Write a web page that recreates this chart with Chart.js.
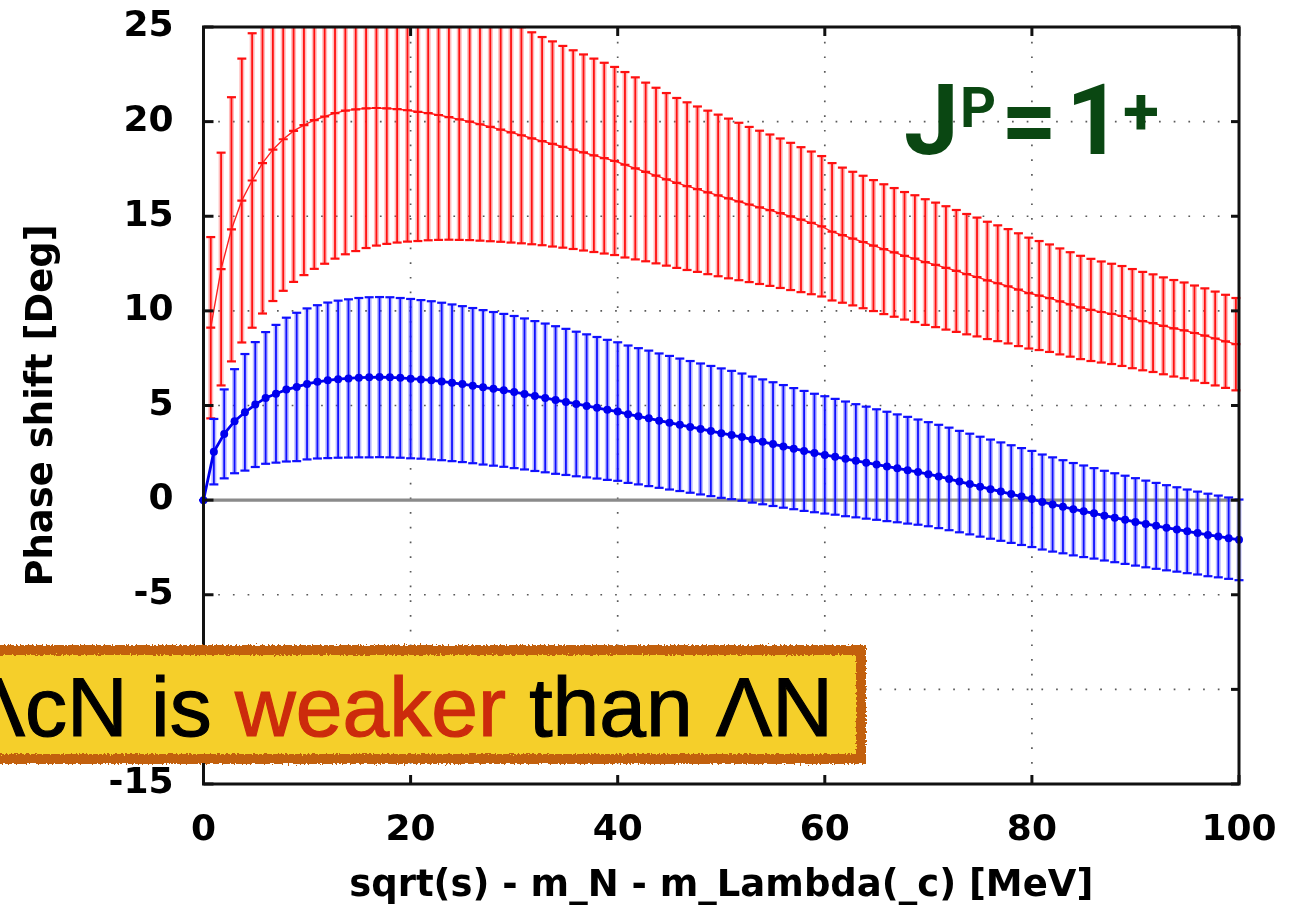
<!DOCTYPE html>
<html>
<head>
<meta charset="utf-8">
<script src="https://cdn.jsdelivr.net/npm/chart.js@4/dist/chart.umd.min.js"></script>
<style>
  html, body { margin: 0; padding: 0; background: #fff; }
  #wrap { position: relative; width: 1311px; height: 911px; overflow: hidden; }
  #plot { position: absolute; left: 0; top: 0; }
  .jp { position: absolute; font-family: Roboto, sans-serif; font-weight: 700; color: #0a4712; line-height: 1; white-space: nowrap; }
  #bannerFrame {
    position: absolute; left: -20px; top: 645px; width: 886px; height: 119px; box-sizing: border-box;
    background: #f5cf2a; border: 10px solid #c2600e; filter: url(#rough);
  }
  #bannerText {
    position: absolute; left: -31px; top: 665px; font-family: "Liberation Sans", Arial, sans-serif;
    font-size: 84px; line-height: 1; color: #000; white-space: nowrap; -webkit-text-stroke: 1.2px #000;
  }
  #bannerText .hl { color: #cc2b0c; -webkit-text-stroke: 1.2px #cc2b0c; }
</style>
</head>
<body>
<div id="wrap">
  <canvas id="plot" width="1311" height="911"></canvas>
  <span class="jp" style="left:904px; top:72px; font-size:98px;">J</span>
  <span class="jp" style="left:960px; top:80px; font-size:56px;">P</span>
  <span class="jp" style="left:1001px; top:72px; font-size:98px;">=</span>
  <span class="jp" style="left:1066px; top:72px; font-size:98px;">1</span>
  <span class="jp" style="left:1123px; top:79px; font-size:66px;">+</span>
  <div id="bannerFrame"></div>
  <div id="bannerText">ΛcN is <span class="hl">weaker</span> than ΛN</div>
  <svg width="0" height="0" style="position:absolute">
    <filter id="rough" x="-5%" y="-20%" width="110%" height="140%">
      <feTurbulence type="fractalNoise" baseFrequency="0.5" numOctaves="2" seed="4" result="noise"/>
      <feDisplacementMap in="SourceGraphic" in2="noise" scale="6" xChannelSelector="R" yChannelSelector="G"/>
    </filter>
  </svg>
</div>
<script>
// Lambda_c N channel (blue): energies [MeV], phase shifts [deg], symmetric errors [deg]
const energyCN = [0,1,2,3,4,5,6,7,8,9,10,11,12,13,14,15,16,17,18,19,20,21,22,23,24,25,26,27,28,29,30,31,32,33,34,35,36,37,38,39,40,41,42,43,44,45,46,47,48,49,50,51,52,53,54,55,56,57,58,59,60,61,62,63,64,65,66,67,68,69,70,71,72,73,74,75,76,77,78,79,80,81,82,83,84,85,86,87,88,89,90,91,92,93,94,95,96,97,98,99,100];
const phaseCN = [0,2.56,3.50,4.17,4.64,5.05,5.40,5.62,5.84,5.98,6.14,6.25,6.33,6.39,6.43,6.47,6.49,6.50,6.49,6.46,6.42,6.38,6.33,6.27,6.20,6.13,6.05,5.96,5.88,5.80,5.71,5.61,5.50,5.40,5.29,5.19,5.08,4.98,4.88,4.77,4.68,4.54,4.43,4.32,4.20,4.09,3.98,3.87,3.76,3.65,3.54,3.44,3.33,3.20,3.08,2.96,2.84,2.72,2.60,2.49,2.39,2.29,2.18,2.08,1.98,1.88,1.78,1.68,1.58,1.48,1.37,1.25,1.12,0.98,0.85,0.71,0.58,0.45,0.32,0.19,0.06,-0.10,-0.23,-0.35,-0.48,-0.59,-0.70,-0.82,-0.93,-1.04,-1.15,-1.26,-1.36,-1.46,-1.55,-1.65,-1.74,-1.84,-1.92,-2.01,-2.10];
const errCN = [0,1.73,2.35,2.75,3.08,3.30,3.48,3.64,3.80,3.92,3.99,4.05,4.11,4.15,4.18,4.21,4.23,4.23,4.23,4.22,4.21,4.19,4.18,4.16,4.14,4.12,4.10,4.08,4.06,4.04,4.02,3.99,3.96,3.93,3.90,3.86,3.82,3.78,3.74,3.70,3.66,3.63,3.60,3.58,3.55,3.53,3.50,3.48,3.46,3.44,3.42,3.39,3.36,3.33,3.30,3.27,3.24,3.20,3.17,3.13,3.10,3.06,3.03,2.99,2.96,2.92,2.89,2.85,2.82,2.78,2.75,2.73,2.71,2.68,2.66,2.64,2.62,2.60,2.58,2.56,2.54,2.51,2.49,2.46,2.44,2.42,2.39,2.37,2.35,2.33,2.31,2.29,2.27,2.25,2.23,2.21,2.19,2.18,2.16,2.15,2.13];

// Lambda N channel (red)
const energyN = [0.7,1.7,2.7,3.7,4.7,5.7,6.7,7.7,8.7,9.7,10.7,11.7,12.7,13.7,14.7,15.7,16.7,17.7,18.7,19.7,20.7,21.7,22.7,23.7,24.7,25.7,26.7,27.7,28.7,29.7,30.7,31.7,32.7,33.7,34.7,35.7,36.7,37.7,38.7,39.7,40.7,41.7,42.7,43.7,44.7,45.7,46.7,47.7,48.7,49.7,50.7,51.7,52.7,53.7,54.7,55.7,56.7,57.7,58.7,59.7,60.7,61.7,62.7,63.7,64.7,65.7,66.7,67.7,68.7,69.7,70.7,71.7,72.7,73.7,74.7,75.7,76.7,77.7,78.7,79.7,80.7,81.7,82.7,83.7,84.7,85.7,86.7,87.7,88.7,89.7,90.7,91.7,92.7,93.7,94.7,95.7,96.7,97.7,98.7,99.7];
const phaseN = [9.11,12.21,14.31,15.83,16.89,17.81,18.52,19.07,19.51,19.81,20.08,20.27,20.45,20.58,20.65,20.70,20.72,20.70,20.66,20.60,20.52,20.45,20.35,20.24,20.12,20.00,19.86,19.72,19.58,19.43,19.28,19.12,18.97,18.82,18.67,18.52,18.37,18.22,18.07,17.92,17.72,17.53,17.34,17.15,16.95,16.76,16.59,16.43,16.26,16.10,15.94,15.78,15.62,15.47,15.32,15.16,14.99,14.82,14.65,14.47,14.18,14.00,13.82,13.64,13.45,13.26,13.09,12.91,12.76,12.58,12.43,12.27,12.11,11.94,11.79,11.61,11.46,11.30,11.12,10.94,10.81,10.67,10.50,10.34,10.18,10.05,9.94,9.84,9.73,9.59,9.46,9.35,9.21,9.08,8.97,8.83,8.69,8.54,8.39,8.24];
const errN = [4.79,6.15,6.98,7.50,7.78,7.95,8.00,8.01,7.98,7.92,7.86,7.78,7.69,7.59,7.49,7.38,7.27,7.16,7.05,6.94,6.83,6.72,6.60,6.48,6.37,6.26,6.15,6.04,5.93,5.82,5.71,5.60,5.50,5.42,5.33,5.25,5.18,5.11,5.04,4.97,4.90,4.81,4.72,4.64,4.56,4.49,4.43,4.37,4.32,4.27,4.22,4.16,4.10,4.05,4.00,3.95,3.89,3.83,3.77,3.71,3.63,3.57,3.53,3.50,3.46,3.43,3.40,3.37,3.35,3.32,3.29,3.26,3.22,3.18,3.14,3.10,3.06,3.02,2.98,2.93,2.88,2.84,2.80,2.76,2.73,2.70,2.67,2.65,2.64,2.62,2.60,2.58,2.56,2.55,2.53,2.51,2.50,2.48,2.46,2.44];

// Axis ticks
const xTicks = [0, 20, 40, 60, 80, 100];
const yTicks = [-15, -10, -5, 0, 5, 10, 15, 20, 25];

const axisFont = { family: 'DejaVu Sans', weight: 'bold', size: 36 };
const titleFont = { family: 'DejaVu Sans', weight: 'bold', size: 37 };

function line(ctx, x1, y1, x2, y2) {
  ctx.beginPath(); ctx.moveTo(x1, y1); ctx.lineTo(x2, y2); ctx.stroke();
}

// Dotted grid, zero axis and error bars under the series; border with inward ticks on top
const framePlugin = {
  id: 'gnuFrame',
  beforeDatasetsDraw(chart) {
    const { ctx, chartArea: a, scales: { x, y } } = chart;
    ctx.save();
    ctx.strokeStyle = 'rgba(60,60,60,0.85)';
    ctx.lineWidth = 1.7;
    ctx.setLineDash([1.7, 13]);
    yTicks.forEach(v => { const p = y.getPixelForValue(v); line(ctx, a.left, p, a.right, p); });
    xTicks.forEach(v => { const p = x.getPixelForValue(v); line(ctx, p, a.top, p, a.bottom); });
    ctx.setLineDash([]);
    ctx.strokeStyle = '#8a8a8a';
    ctx.lineWidth = 3.2;
    const z = y.getPixelForValue(0);
    line(ctx, a.left, z, a.right, z);

    ctx.beginPath();
    ctx.rect(0, a.top, chart.width, a.bottom - a.top);
    ctx.clip();
    [...chart.data.datasets].reverse().forEach(ds => {
      const errs = ds.errorBars;
      const cap = 4.5;
      ds.data.forEach((pt, i) => {
        const px = x.getPixelForValue(pt.x);
        const hi = y.getPixelForValue(pt.y + errs[i]);
        const lo = y.getPixelForValue(pt.y - errs[i]);
        ctx.strokeStyle = ds.haloColor;
        ctx.lineWidth = 5;
        line(ctx, px, hi, px, lo);
        ctx.strokeStyle = ds.barColor;
        ctx.lineWidth = 1.8;
        line(ctx, px, hi, px, lo);
        ctx.lineWidth = 2.2;
        line(ctx, px - cap, hi, px + cap, hi);
        line(ctx, px - cap, lo, px + cap, lo);
      });
    });
    ctx.restore();
  },
  afterDraw(chart) {
    const { ctx, chartArea: a, scales: { x, y } } = chart;
    ctx.save();
    ctx.strokeStyle = '#111';
    ctx.lineWidth = 3;
    yTicks.forEach(v => {
      const p = y.getPixelForValue(v);
      line(ctx, a.left, p, a.left + 10, p);
      line(ctx, a.right, p, a.right - 8, p);
    });
    xTicks.forEach(v => {
      const p = x.getPixelForValue(v);
      line(ctx, p, a.bottom, p, a.bottom - 9);
      line(ctx, p, a.top, p, a.top + 9);
    });
    ctx.strokeRect(a.left, a.top, a.right - a.left, a.bottom - a.top);
    ctx.restore();
  }
};

new Chart(document.getElementById('plot'), {
  type: 'line',
  data: {
    datasets: [
      {
        label: 'ΛcN',
        data: energyCN.map((e, i) => ({ x: e, y: phaseCN[i] })),
        errorBars: errCN,
        barColor: '#1010ff',
        haloColor: 'rgba(70,70,255,0.35)',
        borderColor: '#0000ee',
        backgroundColor: '#0000ee',
        borderWidth: 2.8,
        pointRadius: 4,
        pointStyle: 'circle',
        pointBorderWidth: 0,
        tension: 0,
        order: 0,
        clip: { left: 12, right: 12, top: 0, bottom: 0 }
      },
      {
        label: 'ΛN',
        data: energyN.map((e, i) => ({ x: e, y: phaseN[i] })),
        errorBars: errN,
        barColor: '#ff1010',
        haloColor: 'rgba(255,70,70,0.35)',
        borderColor: '#ff2020',
        backgroundColor: '#ff2020',
        borderWidth: 1.4,
        pointRadius: 4.5,
        pointStyle: 'line',
        pointBorderWidth: 2.2,
        pointBorderColor: '#ff1010',
        tension: 0,
        order: 1,
        clip: { left: 12, right: 12, top: 0, bottom: 0 }
      }
    ]
  },
  options: {
    responsive: false,
    animation: false,
    devicePixelRatio: 1,
    layout: { padding: { top: 27, right: 72, left: 0, bottom: 0 } },
    plugins: { legend: { display: false }, tooltip: { enabled: false } },
    scales: {
      x: {
        type: 'linear', min: 0, max: 100,
        afterBuildTicks: s => { s.ticks = xTicks.map(v => ({ value: v })); },
        ticks: { font: axisFont, color: '#000', padding: 25, maxRotation: 0 },
        grid: { display: false, drawTicks: false },
        border: { display: false },
        title: { display: true, text: 'sqrt(s) - m_N - m_Lambda(_c) [MeV]', font: titleFont, color: '#000', padding: { top: 0, bottom: 2 } },
        afterFit: s => { s.height = 127; s.paddingLeft = 0; s.paddingRight = 0; }
      },
      y: {
        type: 'linear', min: -15, max: 25,
        afterBuildTicks: s => { s.ticks = yTicks.map(v => ({ value: v })); },
        ticks: { font: axisFont, color: '#000', padding: 30 },
        grid: { display: false, drawTicks: false },
        border: { display: false },
        title: { display: true, text: 'Phase shift [Deg]', font: titleFont, color: '#000', padding: { top: 20, bottom: 0 } },
        afterFit: s => { s.width = 203.5; s.paddingTop = 0; s.paddingBottom = 0; }
      }
    }
  },
  plugins: [framePlugin]
});
</script>
</body>
</html>
